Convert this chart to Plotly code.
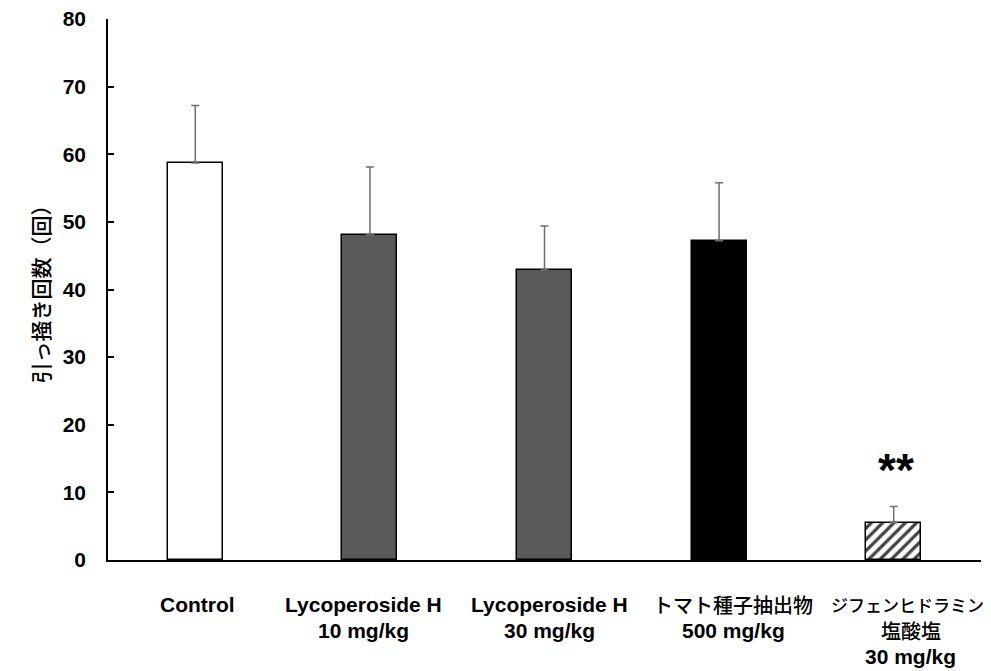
import plotly.graph_objects as go

categories = ["Control", "Lycoperoside H 10", "Lycoperoside H 30", "Tomato 500", "Diphenhydramine 30"]
label_lines = [
    ["<b>Control</b>"],
    ["<b>Lycoperoside H</b>", "<b>10 mg/kg</b>"],
    ["<b>Lycoperoside H</b>", "<b>30 mg/kg</b>"],
    ["トマト種子抽出物", "<b>500 mg/kg</b>"],
    ["ジフェンヒドラミン", "塩酸塩", "<b>30 mg/kg</b>"],
]
means = [58.7, 48.1, 42.9, 47.2, 5.5]
errors = [8.5, 10.0, 6.5, 8.6, 2.4]
fill_colors = ["white", "#595959", "#595959", "black", "white"]
patterns = ["", "", "", "", "/"]
y_ticks = [0, 10, 20, 30, 40, 50, 60, 70, 80]
y_title = "引っ掻き回数（回）"
significance = "**"
sig_y = 13.3

FONT = "Liberation Sans, Arial, Noto Sans CJK JP, sans-serif"
JFONT = "Noto Sans CJK JP, sans-serif"

fig = go.Figure()
# error bars first (drawn beneath the bars so the lower cap hides under the bar top)
fig.add_trace(go.Scatter(
    x=categories, y=means, mode="markers",
    marker=dict(size=1, color="rgba(0,0,0,0)"),
    error_y=dict(type="data", array=errors, arrayminus=[0]*5, symmetric=False,
                 color="#6e6e6e", thickness=1.5, width=4),
    hoverinfo="skip",
))
fig.add_trace(go.Bar(
    x=categories, y=means, width=0.315,
    marker=dict(color=fill_colors, line=dict(color="black", width=1.5),
                pattern=dict(shape=patterns, fgcolor="black", bgcolor="white",
                             fgopacity=1, size=8, solidity=0.4, fillmode="overlay")),
))

# category labels (page pixel centres of each text line)
line_y_px = [604, 630, 656]
label_shift = [2, -6, 5, 14, 17]
plot_top, plot_bot = 19, 560
for cat, lines, sh in zip(categories, label_lines, label_shift):
    for i, t in enumerate(lines):
        yp = (plot_bot - line_y_px[i]) / (plot_bot - plot_top)
        is_jp = not t.startswith("<b>")
        size = 21
        extra = 0
        if is_jp:
            if len(t) > 8:
                size, extra = 17, -3
            else:
                size = 20
        fig.add_annotation(x=cat, xref="x", y=yp, yref="paper", text=t,
                           showarrow=False, yanchor="middle", xshift=sh + extra,
                           font=dict(family=JFONT if is_jp else FONT,
                                     size=size, color="black",
                                     weight=500 if is_jp else None))

fig.add_annotation(x=categories[4], y=sig_y, text="<b>" + significance + "</b>",
                   showarrow=False, yanchor="middle", xshift=2,
                   font=dict(family=FONT, size=46, color="black"))

fig.add_annotation(x=-0.0985, xref="paper", y=0.5, yref="paper", text=y_title,
                   textangle=-90, showarrow=False,
                   font=dict(family=JFONT, size=21, color="black", weight=500))

fig.update_layout(
    width=983, height=663,
    margin=dict(l=100, r=10, t=11, b=111, autoexpand=False),
    paper_bgcolor="white", plot_bgcolor="white",
    showlegend=False, bargap=0,
    xaxis=dict(type="category", range=[-0.5, 4.5], showticklabels=False,
               showline=True, linecolor="black", linewidth=1.5, ticks="",
               showgrid=False, zeroline=False, automargin=False),
    yaxis=dict(range=[0, 80], tickvals=y_ticks, ticktext=[f"<b>{v}</b>" for v in y_ticks],
               showline=True, linecolor="black", linewidth=1.5,
               ticks="inside", ticklen=6, tickwidth=1.5, tickcolor="black",
               ticklabelstandoff=16, ticklabeloverflow="allow", automargin=False,
               tickfont=dict(family=FONT, size=21, color="black"),
               showgrid=False, zeroline=False),
)

fig.write_html("out.html")
